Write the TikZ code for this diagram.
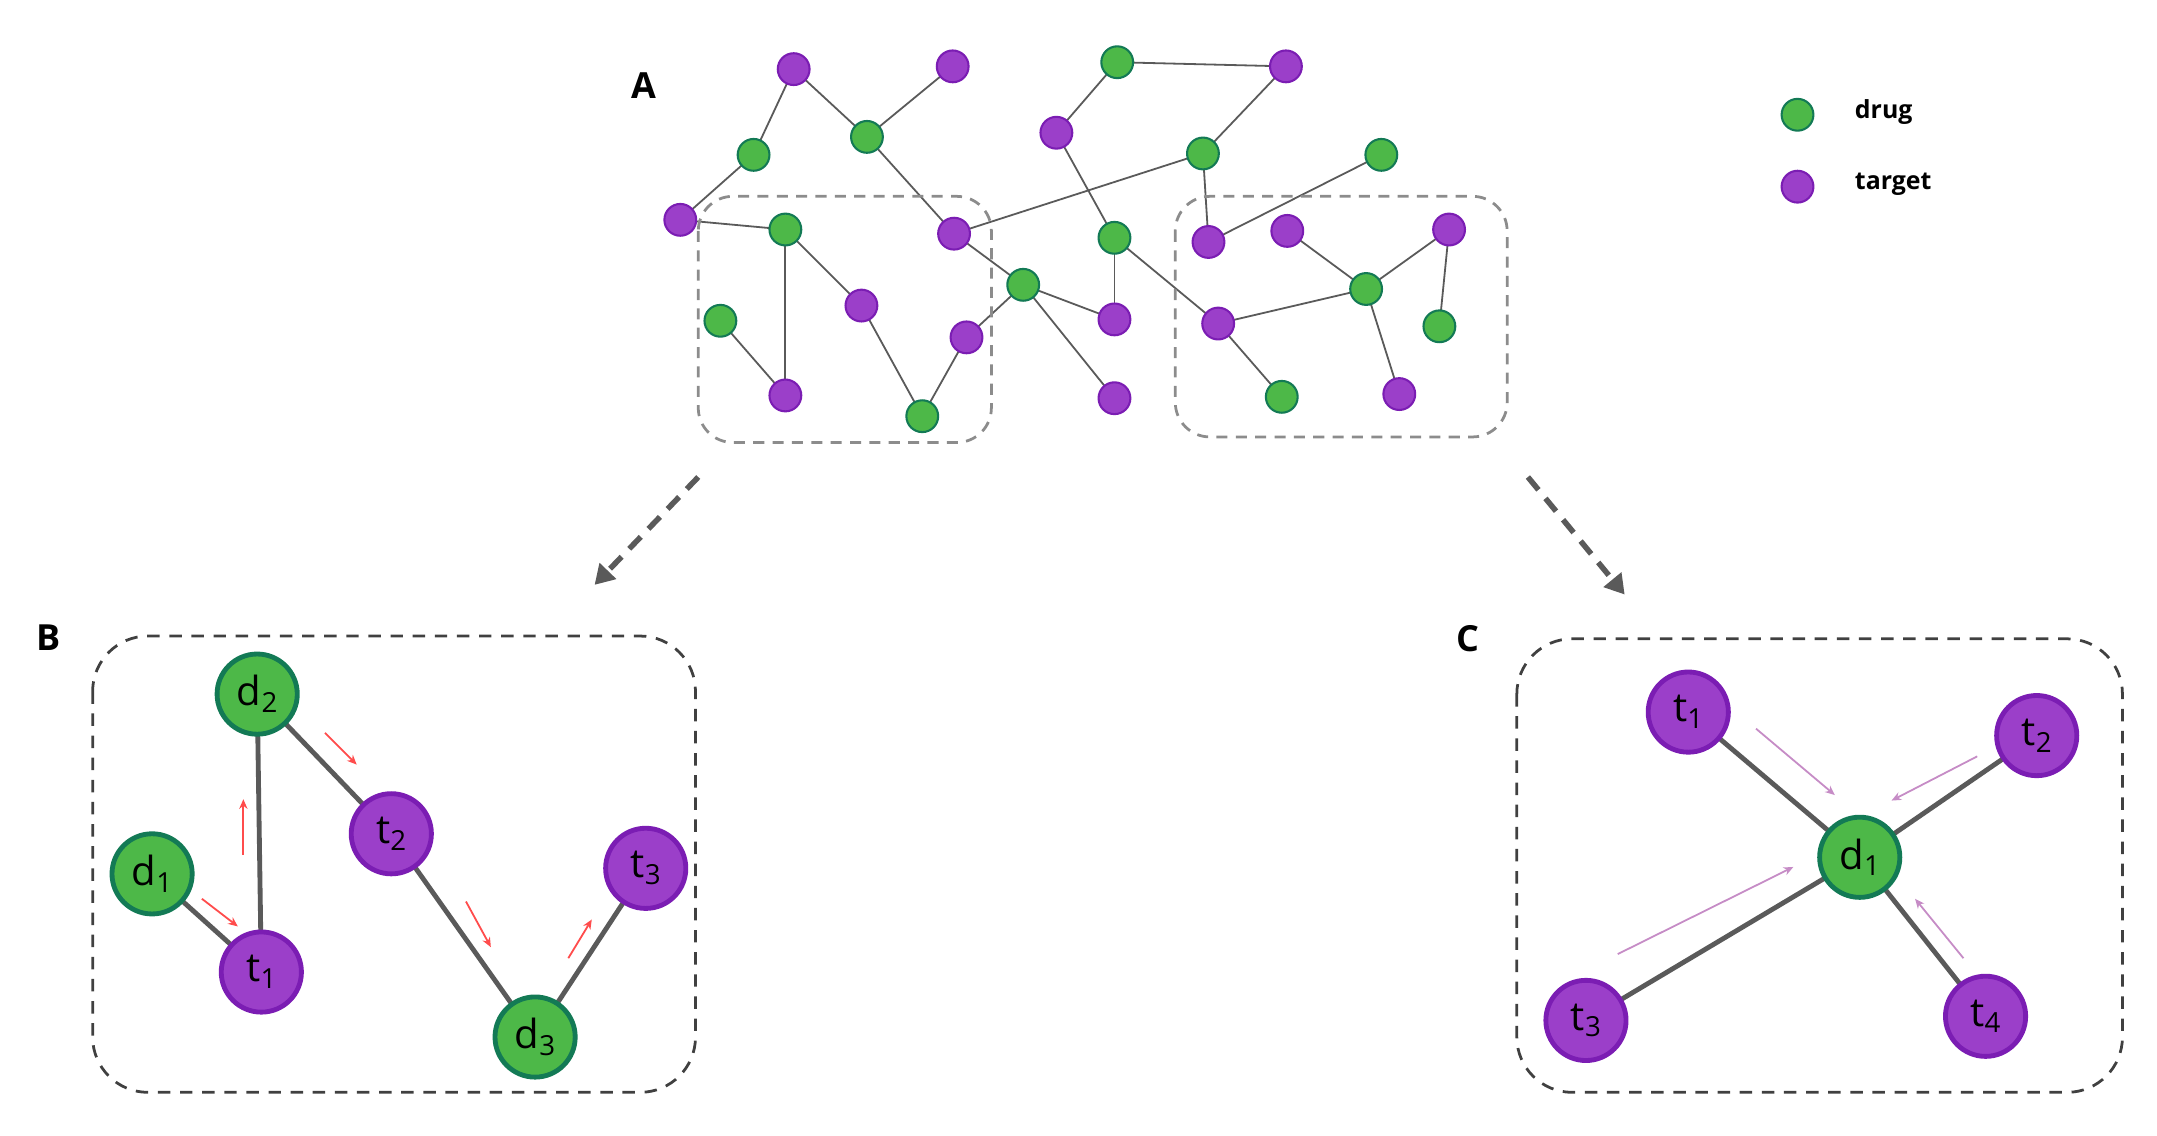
\documentclass[tikz,border=0pt]{standalone}
\usepackage{fontspec}
\setmainfont{Open Sans}
\usetikzlibrary{arrows.meta}
\pgfdeclarelayer{bg}\pgfsetlayers{bg,main}
\definecolor{gf}{HTML}{4DB848}\definecolor{gb}{HTML}{137A55}
\definecolor{pf}{HTML}{9B3FC9}\definecolor{pb}{HTML}{7B1DB3}
\definecolor{ln}{HTML}{5A5A5A}
\newcommand{\lbl}[2]{#1\raisebox{-5pt}{\fontsize{20}{20}\selectfont #2}}
\begin{document}
\begin{tikzpicture}[x=1pt,y=-1pt,
 g/.style={circle,fill=gf,draw=gb,line width=1.5pt,minimum size=23pt,inner sep=0},
 p/.style={circle,fill=pf,draw=pb,line width=1.5pt,minimum size=23pt,inner sep=0},
 G/.style={circle,fill=gf,draw=gb,line width=3.5pt,minimum size=58pt,inner sep=0,font=\fontsize{29}{29}\selectfont},
 P/.style={circle,fill=pf,draw=pb,line width=3.5pt,minimum size=58pt,inner sep=0,font=\fontsize{29}{29}\selectfont},
 e/.style={ln,line width=1.3pt},
 E/.style={ln,line width=3.5pt},
 box/.style={draw=gray!90,line width=2pt,rounded corners=25pt,dash pattern=on 8pt off 6pt},
 Box/.style={draw=black!75,line width=2pt,rounded corners=40pt,dash pattern=on 9pt off 7pt},
 ra/.style={-{Stealth[length=7pt,width=6pt]},line width=1.3pt,red!70},
 la/.style={-{Stealth[length=7pt,width=6pt]},line width=1.3pt,violet!45},
 lab/.style={font=\bfseries\fontsize{26}{26}\selectfont}]
\useasboundingbox (0,0) rectangle (1560,821);
\draw[box] (505,142) rectangle (717,320);
\draw[box] (850,142) rectangle (1090,316);
\node[lab] (A) at (466,62) {A};
\node[lab] (B) at (35,461) {B};
\node[lab] (C) at (1062,462) {C};
% graph A
\foreach \n/\s/\x/\y in {P1/p/574/50,P2/p/689/48,G1/g/808/45,P3/p/930/48,
 G2/g/545/112,G3/g/627/99,P4/p/764/96,G4/g/870/111,G5/g/999/112,
 P5/p/492/159,G6/g/568/166,P6/p/690/169,G7/g/806/172,P7/p/874/175,P8/p/931/167,P9/p/1048/166,
 G8/g/740/206,G9/g/988/209,G10/g/521/232,P10/p/623/221,P11/p/699/244,P12/p/806/231,P13/p/881/234,G11/g/1041/236,
 P14/p/568/286,G12/g/667/301,P15/p/806/288,G13/g/927/287,P16/p/1012/285}
 \node[\s] (\n) at (\x,\y) {};
\begin{pgfonlayer}{bg}
\foreach \a/\b in {P1/G2,P1/G3,G3/P2,G2/P5,P5/G6,G3/P6,G1/P3,G1/P4,P3/G4,G4/P6,P4/G7,G4/P7,G5/P7,P6/G8,G8/P12,G8/P11,G8/P15,G7/P12,G7/P13,G6/P14,G6/P10,P10/G12,P11/G12,G10/P14,P8/G9,P9/G9,G9/P13,P9/G11,G9/P16,P13/G13}
 \draw[e] (\a.center) -- (\b.center);
\end{pgfonlayer}
% legend
\node[g] (lg) at (1300,83) {};
\node[p] (lp) at (1300,135) {};
\node[font=\bfseries\fontsize{18}{18}\selectfont,anchor=west] (ld) at (1338,81) {drug};
\node[font=\bfseries\fontsize{18}{18}\selectfont,anchor=west] (lt) at (1338,133) {target};
% zoom arrows
\coordinate (a1) at (505,345); \coordinate (a2) at (430,423);
\coordinate (c1) at (1105,345); \coordinate (c2) at (1175,430);
\draw[ln,line width=4pt,dash pattern=on 12pt off 8pt,-{Triangle[length=14pt,width=16pt]}] (a1) -- (a2);
\draw[ln,line width=4pt,dash pattern=on 12pt off 8pt,-{Triangle[length=14pt,width=16pt]}] (c1) -- (c2);
% B
\draw[Box] (67,460) rectangle (503,790);
\node[G] (d2) at (186,502) {\lbl{d}{2}};
\node[G] (d1) at (110,632) {\lbl{d}{1}};
\node[P] (t1) at (189,703) {\lbl{t}{1}};
\node[P] (t2) at (283,603) {\lbl{t}{2}};
\node[P] (t3) at (467,628) {\lbl{t}{3}};
\node[G] (d3) at (387,750) {\lbl{d}{3}};
\begin{pgfonlayer}{bg}
\draw[E] (d1.center)--(t1.center)--(d2.center)--(t2.center)--(d3.center)--(t3.center);
\end{pgfonlayer}
\draw[ra] (146,650) -- (172,670);
\draw[ra] (176,618) -- (176,578);
\draw[ra] (235,530) -- (258,553);
\draw[ra] (337,652) -- (355,685);
\draw[ra] (411,693) -- (428,665);
% C
\draw[Box] (1097,462) rectangle (1535,790);
\node[G] (D1) at (1345,620) {\lbl{d}{1}};
\node[P] (T1) at (1221,515) {\lbl{t}{1}};
\node[P] (T2) at (1473,532) {\lbl{t}{2}};
\node[P] (T3) at (1147,738) {\lbl{t}{3}};
\node[P] (T4) at (1436,735) {\lbl{t}{4}};
\begin{pgfonlayer}{bg}
\foreach \t in {T1,T2,T3,T4} \draw[E] (\t.center)--(D1.center);
\end{pgfonlayer}
\draw[la] (1270,527) -- (1327,575);
\draw[la] (1430,547) -- (1368,579);
\draw[la] (1170,690) -- (1297,627);
\draw[la] (1420,693) -- (1385,650);
\end{tikzpicture}
\end{document}
